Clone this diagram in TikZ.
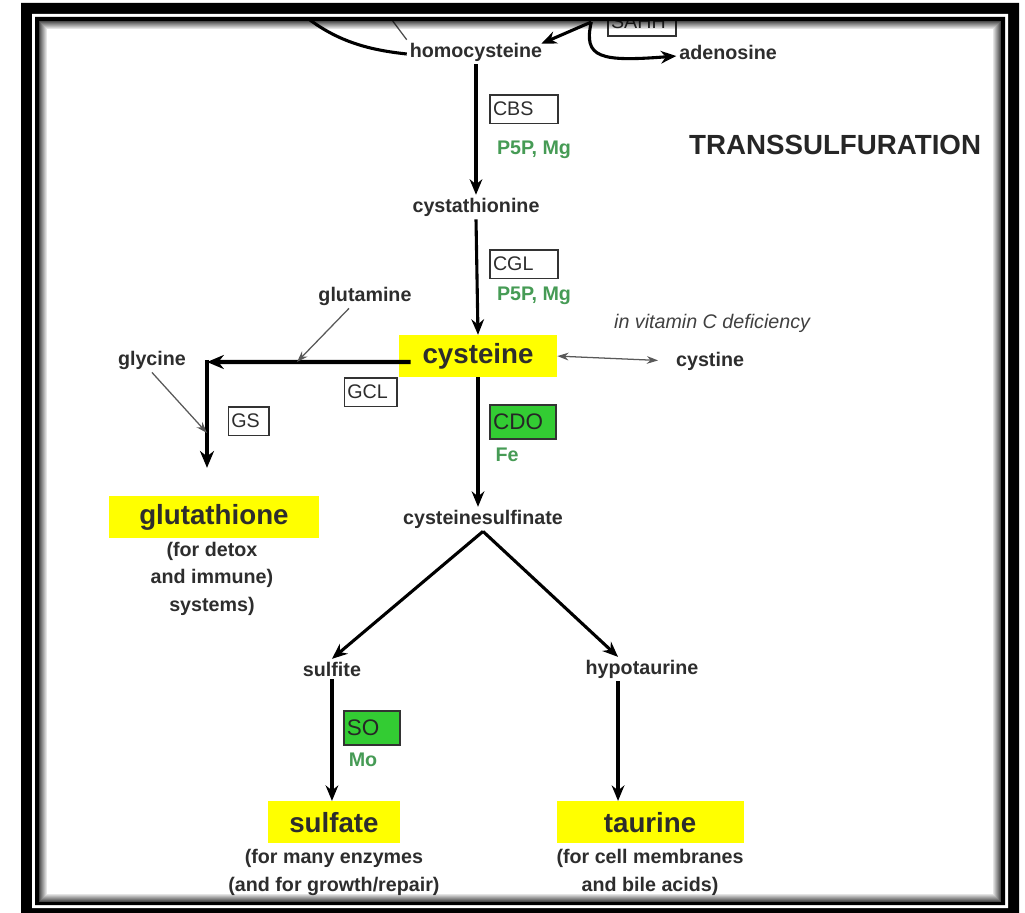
\documentclass[tikz,border=0pt]{standalone}
\usepackage{fontspec}
\setmainfont{Liberation Sans}
\usepackage{tikz}
\usetikzlibrary{arrows.meta}

\definecolor{hiyellow}{RGB}{255,255,0}
\definecolor{enzgreen}{RGB}{51,204,51}
\definecolor{cofgreen}{RGB}{70,155,85}
\definecolor{txtgray}{RGB}{45,45,45}

\tikzstyle{metab} = [font=\fontsize{14}{16}\selectfont\bfseries, text=txtgray, inner sep=2pt]
\tikzstyle{product} = [rectangle, fill=hiyellow, minimum height=1.05cm, inner sep=0pt, font=\fontsize{19.7}{22}\selectfont\bfseries, text=txtgray]
\tikzstyle{notetext} = [align=center, font=\fontsize{14}{19.6}\selectfont\bfseries, text=txtgray]
\tikzstyle{enzyme} = [rectangle, draw=black!80, line width=1.3pt, minimum height=0.72cm, inner xsep=2pt, align=left, font=\fontsize{14}{16}\selectfont, text=txtgray]
\tikzstyle{greenenz} = [enzyme, fill=enzgreen, minimum height=0.85cm, font=\fontsize{16}{18}\selectfont, text=black!85]
\tikzstyle{cofactor} = [font=\fontsize{14}{16}\selectfont\bfseries, text=cofgreen]
\tikzstyle{arrow} = [line width=2.2pt, -{Stealth[length=11pt,width=9pt]}]
\tikzstyle{bigarrow} = [line width=3pt, -{Stealth[length=12pt,width=10pt]}]
\tikzstyle{thinarrow} = [line width=0.9pt, draw=black!65, -{Stealth[length=8pt,width=5.5pt]}]
\tikzstyle{double-arrow} = [thinarrow, {Stealth[length=8pt,width=5.5pt]}-{Stealth[length=8pt,width=5.5pt]}]

\begin{document}
\begin{tikzpicture}[x=0.025cm, y=-0.025cm, node distance=4cm]
	\useasboundingbox (0,0) rectangle (1025,913);
	
	\node (hcy) [metab] at (476,52) {homocysteine};
	\node (ado) [metab, right of=hcy, xshift=2.3cm] {adenosine};
	\node (sahh) [enzyme, text width=1.55cm, above of=hcy, xshift=4.15cm, yshift=-3.25cm] {SAHH};
	\node (title) [font=\fontsize{19.7}{22}\selectfont\bfseries, text=black!85, right of=hcy, xshift=4.975cm, yshift=-2.325cm] {TRANSSULFURATION};
	
	\node (cysta) [metab, below of=hcy, yshift=0.125cm] {cystathionine};
	\node (cys) [product, minimum width=3.95cm, below of=cysta, xshift=0.05cm, yshift=0.275cm] {cysteine};
	\node (csa) [metab, below of=cys, xshift=0.125cm, yshift=-0.075cm] {cysteinesulfinate};
	\node (sulfite) [metab, below of=csa, xshift=-3.775cm, yshift=0.25cm] {sulfite};
	\node (hyp) [metab, below of=csa, xshift=3.975cm, yshift=0.25cm] {hypotaurine};
	\node (sulfate) [product, minimum width=3.3cm, below of=sulfite, xshift=0.05cm, yshift=0.175cm] {sulfate};
	\node (taurine) [product, minimum width=4.675cm, below of=hyp, xshift=0.2cm, yshift=0.175cm] {taurine};
	\node (glu) [product, minimum width=5.25cm, below of=cys, xshift=-6.6cm, yshift=-0.025cm] {glutathione};
	
	\node (glucap) [notetext, below of=glu, xshift=-0.05cm, yshift=2.46cm] {(for detox\\and immune)\\systems)};
	\node (sulfatecap) [notetext, below of=sulfate, yshift=2.75cm] {(for many enzymes\\(and for growth/repair)};
	\node (taurinecap) [notetext, below of=taurine, yshift=2.75cm] {(for cell membranes\\and bile acids)};
	
	\node (glycine) [metab, left of=cys, xshift=-4.15cm, yshift=-0.1cm] {glycine};
	\node (glutamine) [metab, above of=cys, xshift=-2.825cm, yshift=-2.5cm] {glutamine};
	\node (cystine) [metab, right of=cys, xshift=1.8cm, yshift=-0.125cm] {cystine};
	\node (vitc) [metab, font=\fontsize{14}{16}\selectfont\itshape, text=black!75, above of=cystine, xshift=0.05cm, yshift=-3.05cm] {in vitamin C deficiency};
	
	% enzymes and cofactors
	\node (cbs) [enzyme, text width=1.55cm, below of=hcy, xshift=1.2cm, yshift=2.575cm] {CBS};
	\node (cof1) [cofactor, below of=cbs, xshift=0.25cm, yshift=2.975cm] {P5P, Mg};
	\node (cgl) [enzyme, text width=1.55cm, below of=cysta, xshift=1.2cm, yshift=2.575cm] {CGL};
	\node (cof2) [cofactor, below of=cgl, xshift=0.25cm, yshift=3.2cm] {P5P, Mg};
	\node (cdo) [greenenz, text width=1.5cm, below of=cys, xshift=1.125cm, yshift=2.35cm] {CDO};
	\node (fe) [cofactor, below of=cdo, xshift=-0.4cm, yshift=3.175cm] {Fe};
	\node (gcl) [enzyme, text width=1.18cm, below of=cys, xshift=-2.675cm, yshift=3.1cm] {GCL};
	\node (gs) [enzyme, text width=0.88cm, below of=cys, xshift=-5.725cm, yshift=2.375cm] {GS};
	\node (so) [greenenz, text width=1.25cm, below of=sulfite, xshift=1cm, yshift=2.525cm] {SO};
	\node (mo) [cofactor, below of=so, xshift=-0.225cm, yshift=3.2cm] {Mo};
	
	\coordinate (metin) at (300,12);
	\coordinate (thinin) at (386,12);
	\coordinate (sahhtail) at ([xshift=-0.4cm]sahh.west);
	\coordinate (corner) at (207,362);
	\coordinate (gmjoin) at (297,362);
	\coordinate (gyjoin) at (207,433);
	
	\draw [line width=2.2pt] (metin) .. controls (335,42) and (370,50) .. ([yshift=-0.05cm]hcy.west);
	\draw [line width=0.9pt, black!70] (thinin) -- (hcy.north west);
	\draw [arrow] (sahhtail) -- ([xshift=-0.1cm,yshift=-0.1cm]hcy.north east);
	\draw [arrow] (sahhtail) .. controls (583,58) and (600,62) .. ([yshift=-0.1cm]ado.west);
	\draw [arrow] (hcy.south) -- (cysta.north);
	\draw [arrow] (cysta.south) -- (cys.north);
	\draw [arrow] (cys.south) -- (cys.south |- csa.north);
	\draw [bigarrow] ([xshift=0.3cm,yshift=-0.15cm]cys.west) -- (corner);
	\draw [bigarrow, shorten >=0.7cm] ([yshift=1.5pt]corner) -- (corner |- glu.north);
	\draw [thinarrow] ([xshift=-0.4cm]glutamine.south) -- (gmjoin);
	\draw [thinarrow] (glycine.south) -- (gyjoin);
	\draw [double-arrow, shorten >=0.375cm] (cys.east) -- (cystine.west);
	\draw [arrow] (csa.south) -- (sulfite.north);
	\draw [arrow] (csa.south) -- ([xshift=-0.6cm]hyp.north);
	\draw [arrow] (sulfite.south) -- (sulfite.south |- sulfate.north);
	\draw [arrow] ([xshift=-0.6cm]hyp.south) -- ([xshift=-0.6cm]hyp.south |- taurine.north);
	
	% frame
	\fill [black, even odd rule] (21,3) rectangle (1019,916) (32,14) rectangle (1008,908);
	\fill [white, even odd rule] (32,14) rectangle (1008,908) (35,17) rectangle (1005,905);
	\fill [black, even odd rule] (35,17) rectangle (1005,905) (39,21) rectangle (1001,902);
	\foreach \i in {0,...,7}{
		\pgfmathsetmacro{\op}{0.7-0.085*\i}
		\draw [black, opacity=\op, line width=0.025cm] (39.5+\i,21.5+\i) rectangle (1000.5-\i,901.5-\i);
	}
	
\end{tikzpicture}
\end{document}
